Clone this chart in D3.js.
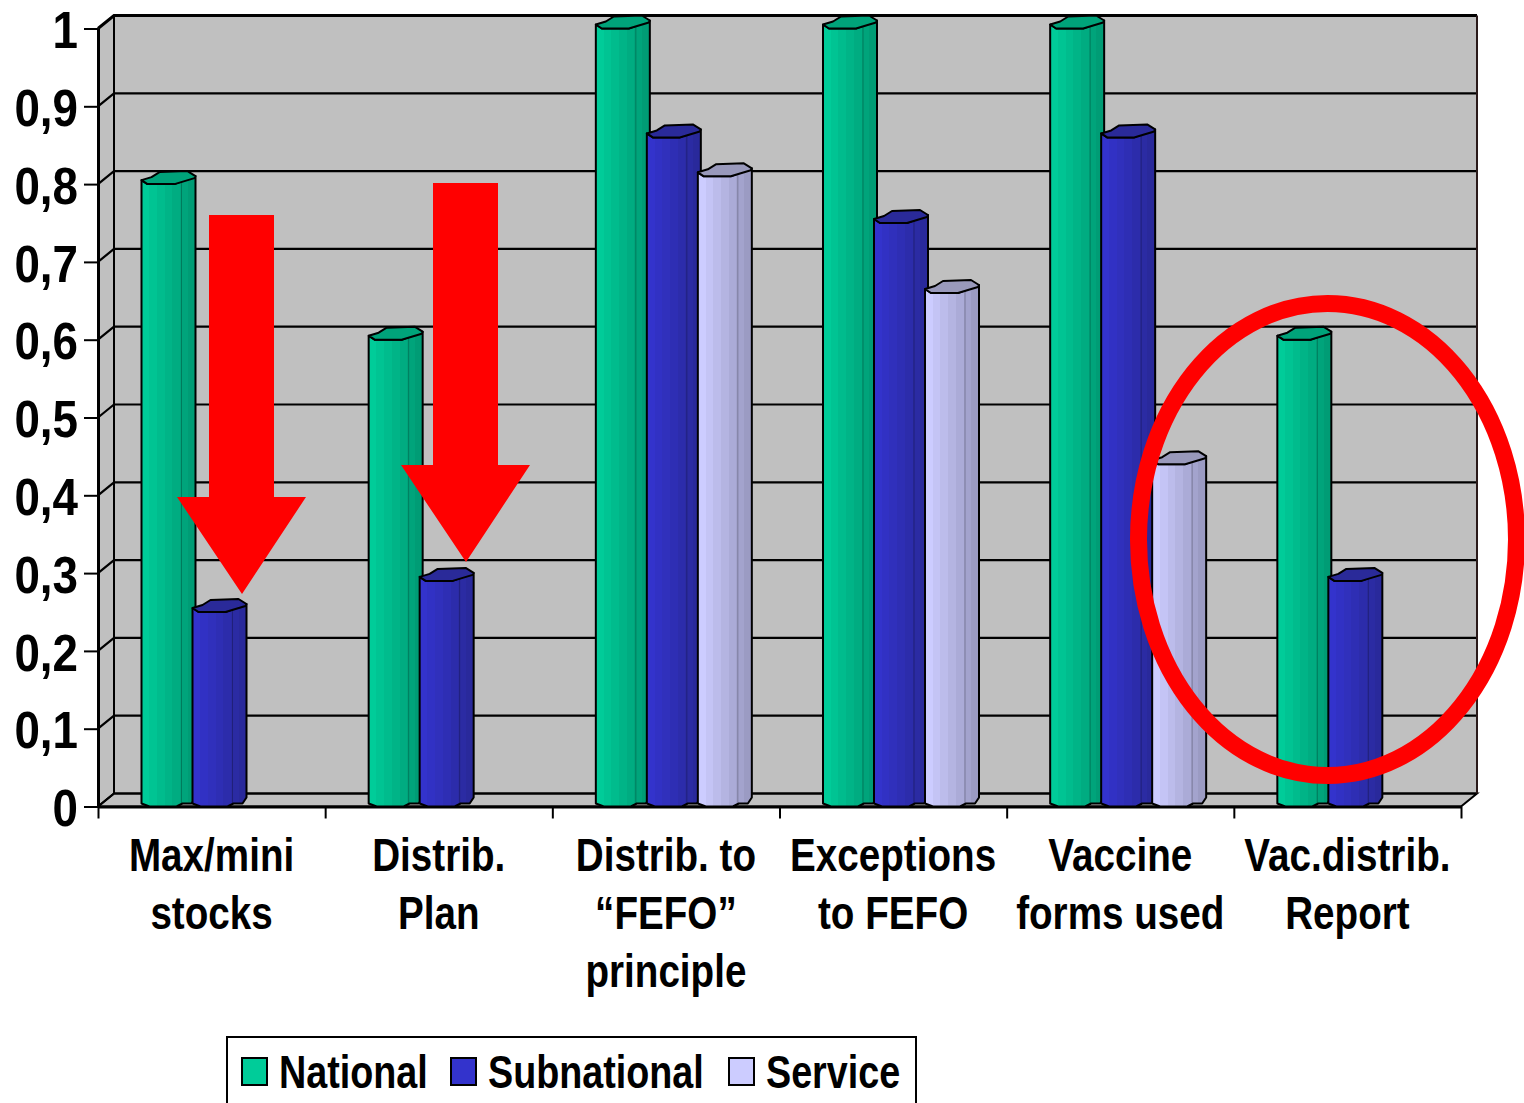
<!DOCTYPE html>
<html>
<head>
<meta charset="utf-8">
<script src="https://cdn.jsdelivr.net/npm/d3@7"></script>
<style>
  html, body { margin: 0; padding: 0; background: #fff; overflow: hidden; }
  text { font-family: "Liberation Sans", Arial, sans-serif; fill: #000; }
</style>
</head>
<body>
<div id="chart"></div>
<script>
// chart values
const categories = ["Max/mini stocks", "Distrib. Plan", "Distrib. to FEFO", "Exceptions to FEFO", "Vaccine forms used", "Vac.distrib. Report"];
const categoryLabels = [
  ["Max/mini", "stocks"],
  ["Distrib.", "Plan"],
  ["Distrib. to", "“FEFO”", "principle"],
  ["Exceptions", "to FEFO"],
  ["Vaccine", "forms used"],
  ["Vac.distrib.", "Report"]
];
const seriesNames = ["National", "Subnational", "Service"];
const national = [0.8, 0.6, 1, 1, 1, 0.6];
const subnational = [0.25, 0.29, 0.86, 0.75, 0.86, 0.29];
const service = [null, null, 0.81, 0.66, 0.44, null];
const yTicks = [0, 0.1, 0.2, 0.3, 0.4, 0.5, 0.6, 0.7, 0.8, 0.9, 1];

const seriesColors = ["#00cc99", "#3333cc", "#ccccff"];
const sideColors = ["#009c75", "#29299b", "#9b9bc3"];
const capColors = ["#00a37a", "#2a2a99", "#9999bb"];

const width = 1524, height = 1103;
const depthX = 16, depthY = -13;
// no narrow font is installed, so the text is squeezed sideways
const squeeze = 0.84;
const legendSqueeze = 0.82;
const tickSqueeze = 0.88;

const svg = d3.select("#chart").append("svg")
  .attr("width", width)
  .attr("height", height)
  .style("display", "block");

const x = d3.scaleBand().domain(categories).range([98, 1461]);
const inner = d3.scaleBand().domain(seriesNames).range([43.5, 196.5]);
const y = d3.scaleLinear().domain([0, 1]).range([806.5, 28.5]);

// stepped gradients for the bars
const defs = svg.append("defs");
seriesNames.forEach((name, i) => {
  const grad = defs.append("linearGradient").attr("id", "bar-" + i);
  const mix = d3.interpolateRgb(seriesColors[i], sideColors[i]);
  const bands = 7;
  d3.range(bands).forEach(b => {
    const c = mix(b / (bands - 1));
    grad.append("stop").attr("offset", b / bands).attr("stop-color", c);
    grad.append("stop").attr("offset", (b + 1) / bands).attr("stop-color", c);
  });
});

// walls and floor
const backLeft = 98 + depthX, backRight = 1461 + depthX;
const yBack = v => y(v) + depthY;

svg.append("rect")
  .attr("x", backLeft)
  .attr("y", yBack(1))
  .attr("width", backRight - backLeft)
  .attr("height", yBack(0) - yBack(1))
  .attr("fill", "#c0c0c0");

svg.append("path")
  .attr("d", `M98,${y(0)}L98,${y(1)}L${backLeft},${yBack(1)}L${backLeft},${yBack(0)}Z`)
  .attr("fill", "#c0c0c0");

svg.append("path")
  .attr("d", `M98,${y(0)}L${backLeft},${yBack(0)}L${backRight},${yBack(0)}L1461,${y(0)}Z`)
  .attr("fill", "#c0c0c0")
  .attr("stroke", "#000")
  .attr("stroke-width", 2);

// gridlines, back wall and side wall
svg.append("g").selectAll("path")
  .data(yTicks)
  .join("path")
  .attr("d", d => `M98,${y(d)}L${backLeft},${yBack(d)}L${backRight},${yBack(d)}`)
  .attr("fill", "none")
  .attr("stroke", "#000")
  .attr("stroke-width", d => d === 1 ? 3 : 2.2);

svg.append("path")
  .attr("d", `M${backLeft},${yBack(1)}L${backLeft},${yBack(0)}`)
  .attr("stroke", "#000")
  .attr("stroke-width", 2);

svg.append("path")
  .attr("d", `M${backRight},${yBack(1)}L${backRight},${yBack(0)}`)
  .attr("stroke", "#2a1a1a")
  .attr("stroke-width", 2);

// y axis
const yAxis = d3.axisLeft(y)
  .tickValues(yTicks)
  .tickSize(14)
  .tickSizeOuter(0)
  .tickFormat(d => d === 0 || d === 1 ? String(d) : d3.format(".1f")(d).replace(".", ","));

const yG = svg.append("g").attr("transform", "translate(98,0)").call(yAxis);
yG.attr("font-family", null).attr("font-size", null);
yG.select(".domain").attr("stroke", "#000").attr("stroke-width", 3);
yG.selectAll(".tick line").attr("stroke", "#000").attr("stroke-width", 2);
yG.selectAll(".tick text")
  .attr("x", 0)
  .attr("dy", "0.37em")
  .attr("transform", `translate(-20,0) scale(${tickSqueeze},1)`)
  .style("font-size", "52px")
  .style("font-weight", "bold")
  .attr("text-anchor", "end");

// x axis, ticks sit between the categories
const xEdges = d3.scaleLinear().domain([0, categories.length]).range([98, 1461]);
const xAxis = d3.axisBottom(xEdges)
  .ticks(categories.length)
  .tickSize(12)
  .tickSizeOuter(0)
  .tickFormat("");
const xG = svg.append("g").attr("transform", `translate(0,${y(0)})`).call(xAxis);
xG.select(".domain").attr("stroke", "#000").attr("stroke-width", 3);
xG.selectAll(".tick line").attr("stroke", "#000").attr("stroke-width", 2);

// bars
const barRows = categories.flatMap((c, i) => [national[i], subnational[i], service[i]]
  .map((v, s) => ({ category: c, series: seriesNames[s], s, v }))
  .filter(d => d.v !== null));

function bodyPath(d) {
  const x0 = x(d.category) + inner(d.series);
  const t = y(d.v), b = y(0);
  return `M${x0},${t - 4}L${x0},${b - 3}L${x0 + 8},${b}L${x0 + 35},${b}L${x0 + 41},${b - 3}` +
    `L${x0 + 50},${b - 3}L${x0 + 54},${b - 9}L${x0 + 54},${t - 8}L${x0 + 33},${t}L${x0 + 6},${t}Z`;
}

function capPath(d) {
  const x0 = x(d.category) + inner(d.series);
  const t = y(d.v);
  return `M${x0},${t - 4}L${x0 + 10},${t - 7}L${x0 + 18},${t - 12}L${x0 + 46},${t - 13}` +
    `L${x0 + 54},${t - 8}L${x0 + 53},${t - 6}L${x0 + 33},${t}L${x0 + 6},${t}Z`;
}

const bars = svg.append("g").selectAll("g")
  .data(barRows)
  .join("g");

bars.append("path")
  .attr("d", bodyPath)
  .attr("fill", d => `url(#bar-${d.s})`)
  .attr("stroke", "#000")
  .attr("stroke-width", 2)
  .attr("stroke-linejoin", "round");

bars.append("path")
  .attr("d", d => {
    const sx = x(d.category) + inner(d.series) + 40;
    return `M${sx},${y(d.v) - 3}L${sx},${y(0) - 3}`;
  })
  .attr("stroke", "#000")
  .attr("stroke-opacity", 0.25)
  .attr("stroke-width", 1);

bars.append("path")
  .attr("d", capPath)
  .attr("fill", d => capColors[d.s])
  .attr("stroke", "#000")
  .attr("stroke-width", 2)
  .attr("stroke-linejoin", "round");

// category labels
const labels = svg.append("g").selectAll("text")
  .data(categories)
  .join("text")
  .attr("transform", d => `translate(${x(d) + x.bandwidth() / 2},0) scale(${squeeze},1)`)
  .attr("text-anchor", "middle")
  .style("font-size", "46px")
  .style("font-weight", "bold");

labels.selectAll("tspan")
  .data((d, i) => categoryLabels[i])
  .join("tspan")
  .attr("x", 0)
  .attr("y", (d, i) => 871 + i * 58)
  .text(d => d);

// red arrows
const arrow = d3.line();
[[209, 215, 497, 594], [433, 183, 465, 562]].forEach(([left, top, neck, tip]) => {
  svg.append("path")
    .attr("d", arrow([[left, top], [left + 65, top], [left + 65, neck], [left + 97, neck],
      [left + 33, tip], [left - 32, neck], [left, neck]]) + "Z")
    .attr("fill", "#ff0000");
});

// red ellipse
svg.append("ellipse")
  .attr("cx", 1327.5)
  .attr("cy", 539.5)
  .attr("rx", 189)
  .attr("ry", 236)
  .attr("fill", "none")
  .attr("stroke", "#ff0000")
  .attr("stroke-width", 17);

// legend, its lower edge is cut off by the page
svg.append("path")
  .attr("d", `M227,${height}L227,1037L916,1037L916,${height}`)
  .attr("fill", "#fff")
  .attr("stroke", "#000")
  .attr("stroke-width", 2);

const legendX = d3.scaleOrdinal().domain(seriesNames).range([242, 451, 729]);
const legend = svg.append("g").selectAll("g")
  .data(seriesNames)
  .join("g")
  .attr("transform", d => `translate(${legendX(d)},0)`);

legend.append("rect")
  .attr("x", 0)
  .attr("y", 1058)
  .attr("width", 25)
  .attr("height", 27)
  .attr("fill", (d, i) => seriesColors[i])
  .attr("stroke", "#000")
  .attr("stroke-width", 2);

legend.append("text")
  .attr("transform", `translate(37,0) scale(${legendSqueeze},1)`)
  .attr("y", 1088)
  .style("font-size", "46px")
  .style("font-weight", "bold")
  .text(d => d);
</script>
</body>
</html>
